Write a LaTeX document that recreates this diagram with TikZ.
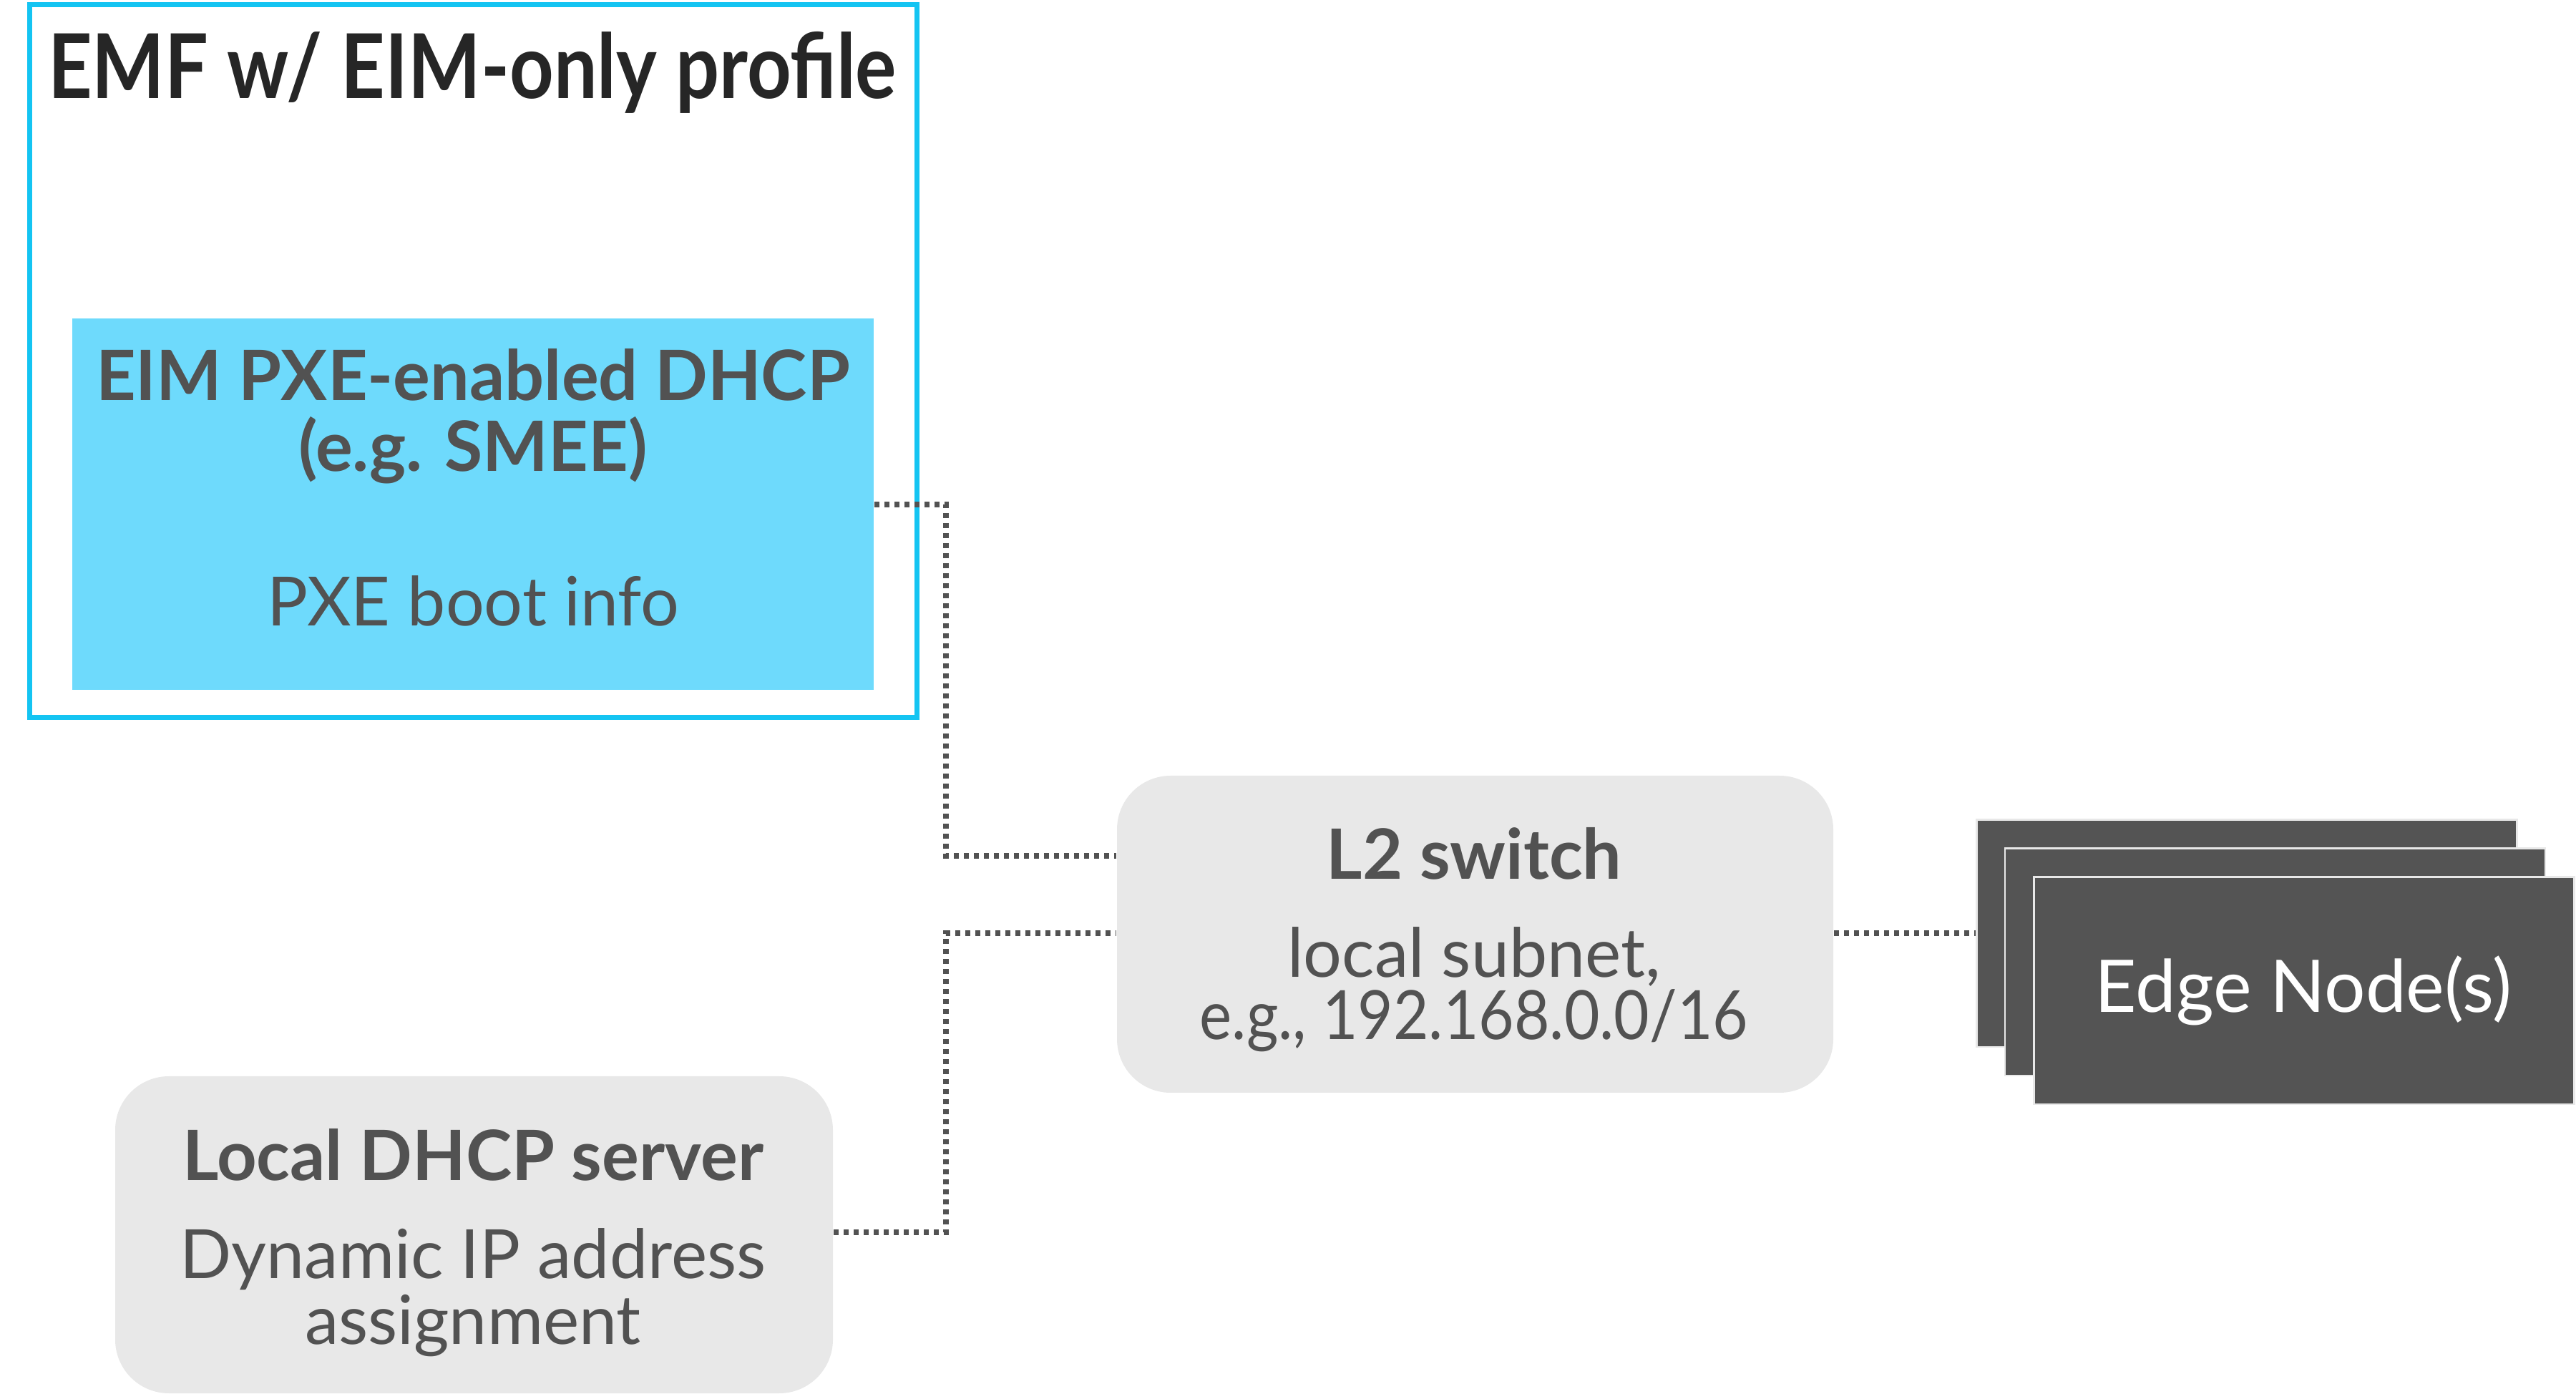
\documentclass[tikz,border=0pt]{standalone}
\usepackage{fontspec}
\setmainfont{Lato}
\definecolor{cyanframe}{RGB}{20,196,242}
\definecolor{cyanfill}{RGB}{110,218,252}
\definecolor{boxgray}{RGB}{232,232,232}
\definecolor{txtgray}{RGB}{82,82,82}
\definecolor{titlegray}{RGB}{38,38,38}
\definecolor{edgefill}{RGB}{84,84,84}
\tikzset{
  frame/.style={draw=cyanframe, line width=1.4pt, inner sep=0pt},
  pxebox/.style={fill=cyanfill, inner sep=0pt},
  graybox/.style={fill=boxgray, rounded corners=15pt, inner sep=0pt},
  edgebox/.style={fill=edgefill, draw=boxgray, line width=0.5pt, inner sep=0pt, minimum width=151pt, minimum height=63.5pt},
  conn/.style={draw=txtgray, line width=1.6pt, dash pattern=on 1.4pt off 1.4pt},
  boldtxt/.style={anchor=base, text=txtgray, font=\fontsize{19.4}{20}\selectfont\bfseries, inner sep=0pt},
  regtxt/.style={anchor=base, text=txtgray, font=\fontsize{19}{20}\selectfont, inner sep=0pt},
}
\begin{document}
\begin{tikzpicture}[x=1pt,y=-1pt]
\useasboundingbox (0,0) rectangle (720,389.6);
% outer frame
\node[frame, minimum width=248pt, minimum height=199.2pt] (emf) at (132.2,101) {};
\node[anchor=base, text=titlegray, font=\fontsize{25}{26}\selectfont\bfseries, inner sep=0pt] (title) at (132,27.6) {\scalebox{0.86}[1]{EMF w/ EIM-only profile}};
% PXE box
\node[pxebox, minimum width=224pt, minimum height=103.8pt] (pxe) at (132.2,140.9) {};
\node[boldtxt] (pxet1) at (132.2,112) {EIM PXE-enabled DHCP};
\node[boldtxt] (pxet2) at (132.2,131.8) {(e.g. SMEE)};
\node[regtxt] (pxet3) at (132.2,175) {PXE boot info};
% L2 switch
\node[graybox, minimum width=200.2pt, minimum height=88.6pt] (l2) at (412.3,261.1) {};
\node[boldtxt] (l2t1) at (412,245.7) {L2 switch};
\node[regtxt] (l2t2) at (412,273.2) {local subnet,};
\node[regtxt] (l2t3) at (412,290.6) {\scalebox{0.9}[1]{e.g., 192.168.0.0/16}};
% Local DHCP
\node[graybox, minimum width=200.6pt, minimum height=88.6pt] (dhcp) at (132.5,345.1) {};
\node[boldtxt] (dhcpt1) at (132.2,330) {Local DHCP server};
\node[regtxt] (dhcpt2) at (132.2,357.2) {Dynamic IP address};
\node[regtxt] (dhcpt3) at (132.2,375.6) {assignment};
% Edge nodes
\node[edgebox] (edge3) at (628,260.9) {};
\node[edgebox] (edge2) at (635.9,268.9) {};
\node[edgebox] (edge1) at (644,276.9) {};
\node[anchor=base, text=white, font=\fontsize{20.3}{21}\selectfont, inner sep=0pt] (edget) at (643.8,282.9) {Edge Node(s)};
% connectors
\coordinate (k1) at (264.4,141);
\coordinate (k2) at (264.4,239.2);
\coordinate (k3) at (264.4,344.4);
\coordinate (k4) at (264.4,260.8);
\draw[conn] (pxe.east |- k1) -- (k1) -- (k2) -- (l2.west |- k2);
\draw[conn] (dhcp.east |- k3) -- (k3) -- (k4) -- (l2.west |- k4);
\draw[conn] (l2.east |- k4) -- (edge3.west |- k4);
\end{tikzpicture}
\end{document}
